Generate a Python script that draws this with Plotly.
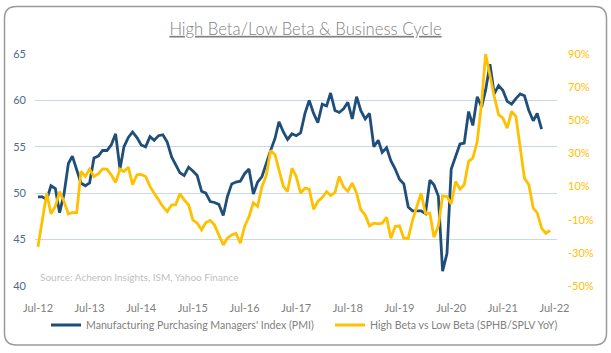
import pandas as pd
import plotly.graph_objects as go

# ---- data ----
pmi_values = [
    49.6, 49.6, 49.3, 50.8, 50.5, 47.9, 49.9, 53.2, 54.0, 52.5, 51.1, 50.8,
    51.1, 53.8, 54.0, 54.6, 54.6, 55.2, 56.4, 52.6, 55.0, 56.0, 56.6, 56.0,
    55.2, 55.0, 56.1, 55.7, 56.2, 56.3, 55.5, 53.9, 53.1, 52.2, 51.9, 52.8,
    52.4, 51.9, 50.2, 50.0, 49.1, 49.0, 48.8, 47.6, 49.6, 51.0, 51.2, 51.3,
    52.1, 52.6, 49.9, 51.2, 51.8, 53.3, 54.6, 55.9, 57.7, 56.6, 55.8, 56.4,
    56.2, 56.5, 58.6, 60.0, 58.6, 57.6, 59.6, 59.4, 60.8, 58.9, 58.7, 59.1,
    59.8, 58.0, 60.4, 58.9, 58.0, 58.6, 55.0, 55.7, 54.4, 54.9, 53.5, 52.6,
    51.5, 51.0, 48.5, 48.1, 48.1, 48.1, 47.8, 51.4, 50.9, 49.7, 41.6, 43.5,
    52.6, 53.9, 55.3, 55.4, 58.8, 57.3, 60.4, 59.3, 61.1, 63.9, 60.7, 61.6,
    61.1, 59.9, 59.6, 60.2, 60.7, 60.5, 58.9, 57.8, 58.6, 56.9,
]
beta_yoy_pct = [
    -26.3, -10.0, 6.0, -6.5, -2.0, 7.0, 1.0, -6.5, -5.7, -5.7, 19.1, 16.1,
    20.5, 16.1, 17.7, 20.7, 20.5, 17.1, 12.5, 20.5, 19.1, 21.7, 11.1, 17.1,
    17.3, 16.1, 10.1, 6.0, 2.0, -2.0, -5.1, -1.0, -1.0, 5.6, 2.0, -1.0,
    -10.1, -12.1, -16.1, -11.7, -10.5, -13.1, -19.2, -25.2, -21.2, -19.2, -18.2, -24.2,
    -14.1, -8.2, 0.3, -2.0, 10.1, 16.5, 31.8, 29.2, 20.1, 10.1, 7.0, 21.1,
    16.1, 6.0, 9.1, 8.4, -3.7, 1.0, 3.4, 7.0, 4.6, 6.4, 16.1, 9.7,
    7.2, 12.1, 6.0, -4.0, -7.1, -13.7, -12.1, -12.5, -12.1, -8.5, -21.2, -14.1,
    -13.7, -21.2, -21.2, -10.5, -2.0, 6.0, -6.1, -6.1, -20.6, -13.7, 4.4, 4.0,
    -0.5, 13.1, 8.4, 11.1, 25.2, 27.2, 37.3, 60.5, 90.0, 76.6, 64.5, 53.4,
    51.4, 45.3, 55.4, 52.4, 32.3, 15.1, 11.1, -3.0, -5.7, -15.1, -18.2, -16.5,
]
pmi_dates = pd.date_range("2012-07-01", periods=len(pmi_values), freq="MS")
beta_dates = pd.date_range("2012-07-01", periods=len(beta_yoy_pct), freq="MS")

left_ticks = [40, 45, 50, 55, 60, 65]
right_ticks = [-50, -30, -10, 10, 30, 50, 70, 90]
right_tick_labels = ["-50%", "-30%", "-10%", "10%", "30%", "50%", "70%", "90%"]

title_text = "High Beta/Low Beta & Business Cycle"
pmi_name = "Manufacturing Purchasing Managers' Index (PMI)"
beta_name = "High Beta vs Low Beta (SPHB/SPLV YoY)"
source_text = "Source: Acheron Insights, ISM, Yahoo Finance"

FONT = "Lato"
W, H = 611, 353
ML, MR, MT, MB = 35, 54, 54, 67
PW, PH = W - ML - MR, H - MT - MB

def px_x(p):
    return (p - ML) / PW

def px_y(p):
    return (H - MB - p) / PH

fig = go.Figure()
fig.add_trace(go.Scatter(
    x=pmi_dates, y=pmi_values, name=pmi_name, mode="lines",
    line=dict(color="#1f4e79", width=2.8), yaxis="y", legend="legend",
))
fig.add_trace(go.Scatter(
    x=beta_dates, y=beta_yoy_pct, name=beta_name, mode="lines",
    line=dict(color="#ffc000", width=2.8), yaxis="y2", legend="legend2",
))

# rounded outer frame
x0, x1 = px_x(4.5), px_x(606.5)
y0, y1 = px_y(345), px_y(6.5)
rx, ry = 12 / PW, 12 / PH
path = (
    f"M {x0+rx},{y1} L {x1-rx},{y1} Q {x1},{y1} {x1},{y1-ry} "
    f"L {x1},{y0+ry} Q {x1},{y0} {x1-rx},{y0} "
    f"L {x0+rx},{y0} Q {x0},{y0} {x0},{y0+ry} "
    f"L {x0},{y1-ry} Q {x0},{y1} {x0+rx},{y1} Z"
)

legend_common = dict(
    orientation="h", xanchor="left", y=px_y(325), yanchor="middle",
    font=dict(family=FONT, size=10.6, color="#7f7f7f"),
    bgcolor="rgba(0,0,0,0)",
)

fig.update_layout(
    width=W, height=H,
    margin=dict(l=ML, r=MR, t=MT, b=MB),
    paper_bgcolor="white", plot_bgcolor="white",
    font=dict(family=FONT, color="#7f7f7f"),
    title=dict(
        text=f"<u>{title_text}</u>", x=0.5, xanchor="center",
        y=1 - 29 / H, yanchor="middle",
        font=dict(family=FONT, size=16.7, color="#7f7f7f", weight=300),
    ),
    showlegend=True,
    legend=dict(x=px_x(46), **legend_common),
    legend2=dict(x=px_x(330), **legend_common),
    xaxis=dict(
        type="date", range=["2012-06-10", "2022-07-19"],
        tick0="2012-07-01", dtick="M12", tickformat="%b-%y",
        showgrid=False, zeroline=False, showline=False, ticks="",
        tickfont=dict(family=FONT, size=11, color="#808080"),
        ticklabelstandoff=14,
    ),
    yaxis=dict(
        range=[40, 65], tickvals=left_ticks,
        showgrid=True, gridcolor="#c8d8ea", gridwidth=1,
        zeroline=False, showline=False, ticks="",
        tickfont=dict(family=FONT, size=11, color="#4d6a8f"),
        ticklabelstandoff=8,
    ),
    yaxis2=dict(
        range=[-50, 90], tickvals=right_ticks, ticktext=right_tick_labels,
        overlaying="y", side="right",
        showgrid=False, zeroline=False, showline=False, ticks="",
        tickfont=dict(family=FONT, size=11, color="#ffc000"),
        ticklabelstandoff=10,
    ),
    shapes=[dict(type="path", path=path, xref="paper", yref="paper",
                 line=dict(color="#9a9a9a", width=1.5), fillcolor="rgba(0,0,0,0)",
                 layer="below")],
    annotations=[dict(
        text=source_text, xref="paper", yref="paper",
        x=px_x(38), y=px_y(277), xanchor="left", yanchor="middle",
        showarrow=False, font=dict(family=FONT, size=10, color="#bfbfbf"),
    )],
)

fig.write_html("out.html")
